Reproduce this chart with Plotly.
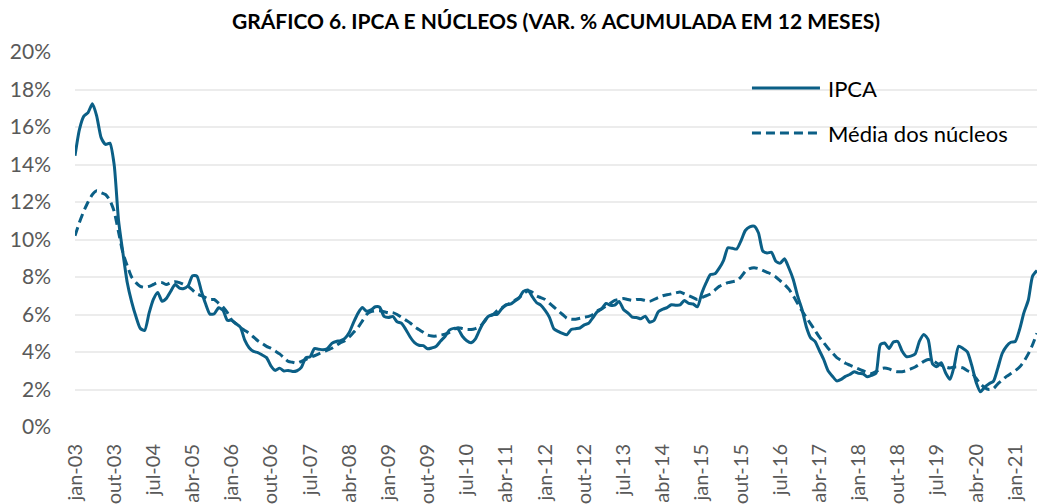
import plotly.graph_objects as go

# ---- data ----
meses = ["jan", "fev", "mar", "abr", "mai", "jun", "jul", "ago", "set", "out", "nov", "dez"]
anos = list(range(2003, 2022))
ipca = [
    14.47, 15.85, 16.57, 16.77, 17.24, 16.57, 15.43, 15.07, 15.14, 13.98, 11.02, 9.30,
    7.71, 6.69, 5.89, 5.26, 5.15, 6.06, 6.81, 7.18, 6.71, 6.86, 7.24, 7.60,
    7.41, 7.39, 7.54, 8.07, 8.05, 7.27, 6.57, 6.02, 6.04, 6.36, 6.22, 5.69,
    5.70, 5.51, 5.32, 4.63, 4.23, 4.03, 3.97, 3.84, 3.70, 3.26, 3.02, 3.14,
    2.99, 3.02, 2.96, 3.00, 3.18, 3.69, 3.74, 4.18, 4.15, 4.12, 4.19, 4.46,
    4.56, 4.61, 4.73, 5.04, 5.58, 6.06, 6.37, 6.17, 6.25, 6.41, 6.39, 5.90,
    5.84, 5.90, 5.61, 5.53, 5.20, 4.80, 4.50, 4.36, 4.34, 4.17, 4.22, 4.31,
    4.59, 4.83, 5.17, 5.26, 5.22, 4.84, 4.60, 4.49, 4.70, 5.20, 5.63, 5.91,
    5.99, 6.01, 6.30, 6.51, 6.55, 6.71, 6.87, 7.23, 7.31, 6.97, 6.64, 6.50,
    6.22, 5.85, 5.24, 5.10, 4.99, 4.92, 5.20, 5.24, 5.28, 5.45, 5.53, 5.84,
    6.15, 6.31, 6.59, 6.49, 6.50, 6.70, 6.27, 6.09, 5.86, 5.84, 5.77, 5.91,
    5.59, 5.68, 6.15, 6.28, 6.37, 6.52, 6.50, 6.51, 6.75, 6.59, 6.56, 6.41,
    7.14, 7.70, 8.13, 8.17, 8.47, 8.89, 9.56, 9.53, 9.49, 9.93, 10.48, 10.67,
    10.71, 10.36, 9.39, 9.28, 9.32, 8.84, 8.74, 8.97, 8.48, 7.87, 6.99, 6.29,
    5.35, 4.76, 4.57, 4.08, 3.60, 3.00, 2.71, 2.46, 2.54, 2.70, 2.80, 2.95,
    2.86, 2.84, 2.68, 2.76, 2.86, 4.39, 4.48, 4.19, 4.53, 4.56, 4.05, 3.75,
    3.78, 3.89, 4.58, 4.94, 4.66, 3.37, 3.22, 3.43, 2.89, 2.54, 3.27, 4.31,
    4.19, 4.01, 3.30, 2.40, 1.88, 2.13, 2.31, 2.44, 3.14, 3.92, 4.31, 4.52,
    4.56, 5.20, 6.10, 6.76, 8.06, 8.35,
]
media_nucleos = [
    10.2, 10.9, 11.5, 12.0, 12.4, 12.6, 12.5, 12.4, 12.1, 11.5, 10.4, 9.3,
    8.6, 8.0, 7.7, 7.5, 7.45, 7.5, 7.6, 7.7, 7.7, 7.6, 7.7, 7.75,
    7.7, 7.6, 7.5, 7.3, 7.1, 7.0, 6.9, 6.8, 6.8, 6.6, 6.4, 6.1,
    5.7, 5.5, 5.3, 5.15, 5.0, 4.8, 4.6, 4.45, 4.3, 4.2, 4.05, 3.9,
    3.7, 3.5, 3.45, 3.4, 3.5, 3.6, 3.7, 3.8, 3.9, 4.0, 4.1, 4.2,
    4.35, 4.5, 4.6, 4.8, 5.05, 5.3, 5.65, 6.0, 6.15, 6.2, 6.2, 6.15,
    6.1, 6.1, 6.0, 5.85, 5.7, 5.55, 5.35, 5.2, 5.05, 4.9, 4.85, 4.85,
    4.9, 4.95, 5.05, 5.2, 5.3, 5.25, 5.2, 5.2, 5.25, 5.35, 5.6, 5.9,
    6.0, 6.2, 6.35, 6.5, 6.6, 6.75, 6.9, 7.1, 7.25, 7.2, 7.0, 6.9,
    6.8, 6.6, 6.4, 6.2, 6.0, 5.8, 5.75, 5.75, 5.8, 5.85, 5.9, 6.0,
    6.2, 6.3, 6.45, 6.6, 6.75, 6.8, 6.85, 6.8, 6.75, 6.8, 6.8, 6.75,
    6.7, 6.8, 6.9, 7.0, 7.05, 7.1, 7.15, 7.2, 7.1, 7.0, 6.9, 6.8,
    6.9, 7.0, 7.1, 7.3, 7.5, 7.6, 7.7, 7.75, 7.8, 8.0, 8.3, 8.45,
    8.5, 8.45, 8.35, 8.25, 8.15, 8.0, 7.8, 7.6, 7.35, 7.0, 6.6, 6.2,
    5.85, 5.5, 5.15, 4.8, 4.5, 4.2, 3.95, 3.7, 3.55, 3.4, 3.3, 3.2,
    3.1, 3.0, 2.9, 2.85, 2.95, 3.1, 3.15, 3.1, 3.0, 2.95, 2.95, 3.0,
    3.1, 3.2, 3.35, 3.5, 3.6, 3.55, 3.4, 3.3, 3.2, 3.15, 3.2, 3.2,
    3.15, 3.0, 2.9, 2.6, 2.3, 2.1, 2.0, 2.05, 2.3, 2.5, 2.7, 2.85,
    3.0, 3.2, 3.5, 3.9, 4.4, 5.0,
]
tick_labels = ["jan-03", "out-03", "jul-04", "abr-05", "jan-06", "out-06", "jul-07",
               "abr-08", "jan-09", "out-09", "jul-10", "abr-11", "jan-12", "out-12",
               "jul-13", "abr-14", "jan-15", "out-15", "jul-16", "abr-17", "jan-18",
               "out-18", "jul-19", "abr-20", "jan-21"]
y_ticks = [0, 2, 4, 6, 8, 10, 12, 14, 16, 18, 20]

datas = [f"{m}-{str(a)[2:]}" for a in anos for m in meses][:len(ipca)]

COR = "#0b5f86"
FONT = "Lato"
DASH = "9px,5px"

fig = go.Figure()
fig.add_trace(go.Scatter(x=datas, y=ipca, mode="lines", name="IPCA",
                         line=dict(color=COR, width=3, shape="spline", smoothing=0.6),
                         showlegend=False))
fig.add_trace(go.Scatter(x=datas, y=media_nucleos, mode="lines", name="Média dos núcleos",
                         line=dict(color=COR, width=3, dash=DASH, shape="spline", smoothing=0.6),
                         showlegend=False))

# legend drawn as keys + labels
leg = [("IPCA", "solid", 0.904), ("Média dos núcleos", DASH, 0.784)]
shapes, annos = [], []
for txt, dash, yy in leg:
    shapes.append(dict(type="line", xref="paper", yref="paper", x0=0.7037, x1=0.7744,
                       y0=yy, y1=yy, line=dict(color=COR, width=3, dash=dash)))
    annos.append(dict(text=txt, xref="paper", yref="paper", x=0.781, y=yy,
                      xanchor="left", yanchor="middle", showarrow=False,
                      font=dict(family=FONT, size=22, color="#000000")))

fig.update_layout(
    width=1037, height=504,
    margin=dict(l=75, r=0, t=52, b=77, autoexpand=False),
    paper_bgcolor="white", plot_bgcolor="white",
    title=dict(text="<b>GRÁFICO 6. IPCA E NÚCLEOS (VAR. % ACUMULADA EM 12 MESES)</b>",
               x=0.5, xref="paper", xanchor="center",
               y=1 - 22 / 504, yref="container", yanchor="middle",
               font=dict(family=FONT, size=21, color="#000000")),
    shapes=shapes, annotations=annos,
    font=dict(family=FONT),
)
fig.update_xaxes(type="category", range=[0, len(ipca) - 1], automargin=False,
                 tickmode="array", tickvals=tick_labels, ticktext=tick_labels,
                 tickangle=-90, showgrid=False, zeroline=False, showline=False,
                 ticks="", ticklabelstandoff=12,
                 tickfont=dict(family=FONT, size=20, color="#595959"))
fig.update_yaxes(range=[0, 20], tickmode="array", tickvals=y_ticks, automargin=False,
                 ticktext=[f"{v}%" for v in y_ticks],
                 showgrid=True, gridcolor="#ececec", gridwidth=1.5,
                 zeroline=False, showline=False, ticks="", ticklabelstandoff=23,
                 tickfont=dict(family=FONT, size=21, color="#595959"))

fig.write_html("out.html", config={"displayModeBar": False},
               post_script="document.body.style.margin='0px';")
